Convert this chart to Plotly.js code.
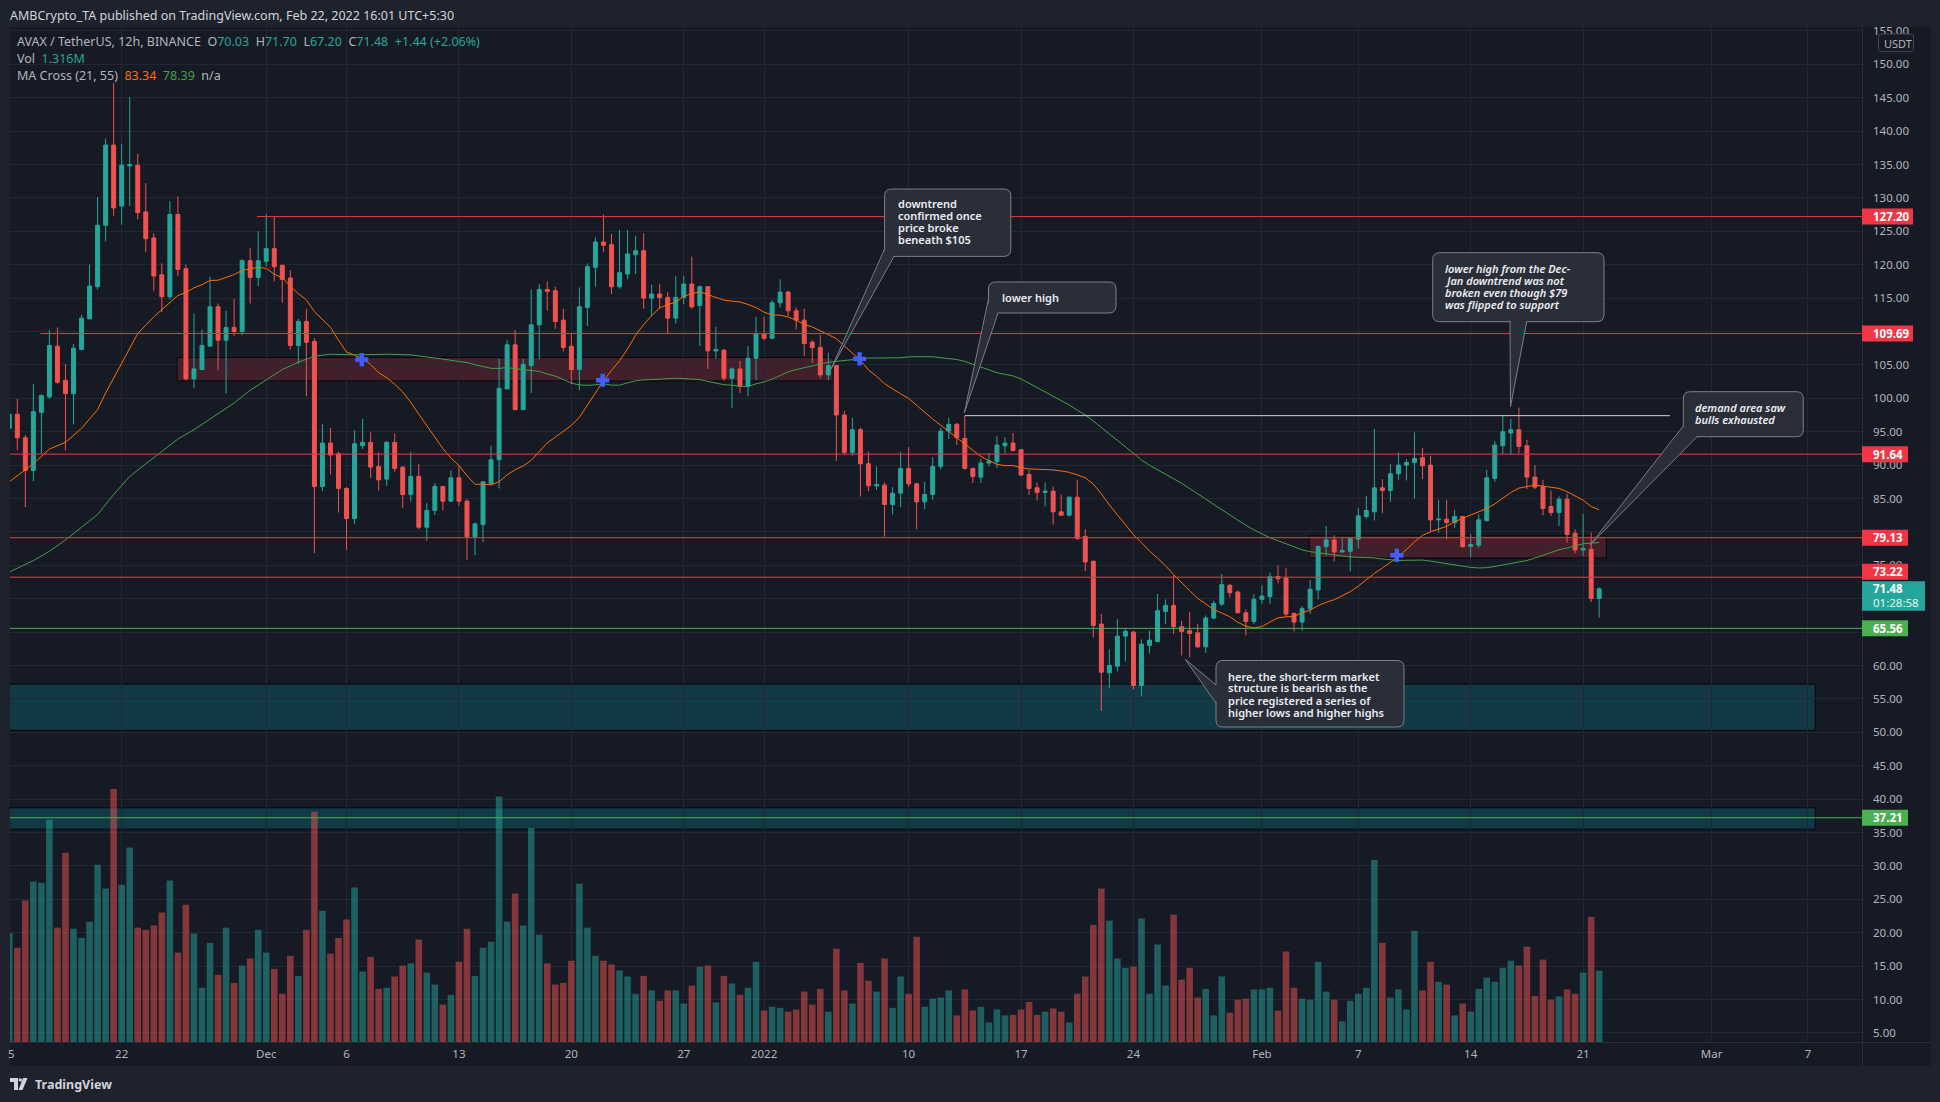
<!DOCTYPE html>
<html><head><meta charset="utf-8">
<script src="https://cdn.plot.ly/plotly-3.0.1.min.js"></script>
<style>html,body{margin:0;padding:0;background:#1e222d;overflow:hidden}#chart{width:1940px;height:1102px}</style>
</head><body><div id="chart"></div>
<script>
// ---------------- DATA (AVAX/USDT 12h, BINANCE) ----------------
const firstCandleUTC = Date.UTC(2021, 10, 15, 0, 0); // Nov 15 2021 00:00
const candleMs = 12 * 3600 * 1000;

const open = [
95.5,97.6,94.1,89.2,97.9,100.2,107.8,102.7,100.7,107.3,
111.9,116.7,125.9,137.9,128.8,134.8,134.9,127.9,124.0,118.5,
115.2,127.5,119.4,102.9,104.3,107.8,113.7,108.7,110.6,110.0,
120.6,118.1,120.5,122.4,119.9,118.0,107.9,111.5,108.5,86.8,
93.3,91.7,86.5,82.0,92.9,93.4,89.8,87.9,93.4,89.7,
85.6,88.3,80.7,83.2,86.8,84.6,88.1,84.6,79.3,81.1,
87.2,90.8,101.4,108.0,98.3,104.9,111.0,116.3,116.1,111.7,
107.8,104.3,113.6,119.6,123.4,123.0,116.7,118.6,121.5,122.1,
115.0,115.6,115.1,112.0,115.1,117.1,113.9,116.7,107.1,107.2,
103.0,104.4,101.8,106.0,109.7,109.0,114.3,115.9,113.1,111.7,
108.4,107.6,103.5,104.9,97.5,91.9,95.3,90.2,86.9,87.0,
84.1,85.8,89.5,87.2,84.5,85.6,89.8,95.1,96.1,94.0,
89.5,88.2,90.3,90.5,92.9,93.3,92.3,88.6,86.6,85.9,
86.1,83.0,82.5,85.2,79.3,75.6,66.2,58.9,59.9,64.4,
65.0,57.0,63.0,63.6,68.1,69.0,65.8,65.2,64.9,62.8,
67.1,69.2,72.0,71.0,67.9,66.6,69.9,70.3,73.3,73.1,
67.8,66.5,68.5,71.3,77.8,78.8,77.0,77.1,78.9,82.3,
83.0,86.6,86.2,88.7,90.0,90.4,91.1,90.0,81.8,81.9,
81.4,82.3,77.8,78.0,81.7,88.0,92.9,94.8,95.3,92.9,
88.2,86.8,83.8,82.9,84.9,79.8,77.3,77.4,70.03];

const high = [
98.0,99.9,94.5,102.1,100.6,110.2,110.6,105.1,108.1,112.5,
120.0,130.1,138.9,147.2,138.1,145.1,136.6,132.2,124.7,120.2,
129.5,130.2,120.0,112.7,110.3,118.2,114.2,113.1,114.9,120.8,
122.5,125.0,127.6,127.2,120.0,119.2,111.9,113.4,109.0,96.1,
95.6,92.0,86.7,95.2,96.9,94.9,91.9,93.6,94.7,89.8,
92.0,90.2,84.3,87.3,86.9,89.2,90.0,84.9,81.4,87.6,
92.9,105.9,108.7,110.2,105.9,116.3,117.1,117.5,116.7,113.4,
109.8,116.6,120.2,124.1,127.5,124.6,125.2,125.2,124.3,124.7,
117.0,117.1,115.9,118.3,118.3,121.2,116.9,116.8,110.7,107.4,
104.6,105.6,107.8,112.2,112.2,114.7,117.8,116.1,113.6,113.4,
108.7,109.5,106.8,105.0,98.1,97.1,95.6,92.0,89.8,87.4,
86.7,92.0,92.7,87.4,87.5,91.2,95.6,97.1,96.3,97.4,
89.6,90.9,91.8,94.4,94.2,94.8,92.4,89.3,87.4,87.4,
86.8,85.6,85.3,87.8,80.4,75.7,67.7,62.4,66.9,65.5,
65.2,63.9,65.2,70.7,69.9,73.5,66.7,68.0,66.2,67.5,
69.7,73.7,72.2,71.2,68.4,70.7,72.0,73.9,75.0,74.6,
67.9,68.9,72.8,78.0,80.9,79.5,79.1,79.1,83.6,85.4,
95.4,87.9,90.2,91.9,90.9,94.9,92.6,91.4,84.8,84.8,
83.3,82.4,79.7,82.6,89.3,93.6,97.4,96.9,98.6,93.8,
90.0,87.8,86.2,85.3,85.7,80.4,82.7,79.9,71.70];

const low = [
95.0,92.2,83.7,87.6,91.7,99.9,102.2,92.2,96.1,107.2,
111.8,116.3,123.5,127.3,126.0,128.8,126.8,121.9,116.1,112.9,
114.8,118.3,102.7,101.5,104.3,107.8,104.2,100.7,109.3,109.5,
114.2,116.8,119.7,117.5,114.3,107.3,105.1,100.3,76.8,86.1,
88.6,82.9,77.3,81.2,92.4,88.1,86.2,86.9,89.0,83.6,
84.5,80.4,78.7,82.5,83.2,84.5,83.9,75.8,76.5,78.5,
87.0,86.5,101.4,98.2,98.3,100.8,105.8,113.1,110.4,107.0,
102.1,101.2,110.8,116.7,121.9,115.6,116.4,117.8,118.6,113.4,
112.3,113.4,109.7,111.2,114.1,113.4,107.8,104.4,105.9,102.6,
98.5,100.8,100.3,102.7,108.7,108.8,113.6,112.3,110.3,106.3,
105.3,103.0,102.7,90.6,91.5,91.4,85.3,86.1,86.3,79.3,
82.6,83.7,86.7,80.4,83.4,84.8,89.3,93.9,93.0,89.3,
87.3,87.3,89.8,89.6,91.8,92.0,88.4,85.5,84.7,83.8,
81.1,82.4,82.3,78.8,74.1,64.2,53.2,56.6,59.1,60.6,
56.4,55.4,61.8,63.5,66.2,64.7,61.5,61.2,62.6,61.9,
66.9,68.9,70.2,67.8,64.5,66.2,69.2,69.2,72.3,67.4,
65.1,65.2,67.7,69.9,76.4,75.6,76.9,74.1,77.5,81.9,
81.7,82.8,84.5,87.8,87.7,85.0,87.9,80.1,79.9,78.9,
80.6,77.6,76.2,77.6,81.5,87.5,91.7,91.6,91.8,86.4,
86.4,82.5,82.4,80.9,78.4,76.8,76.4,69.5,67.20];

const close = [
97.6,94.1,89.2,98.0,100.4,107.9,102.4,100.7,107.5,112.0,
116.8,125.9,137.9,128.5,134.9,135.0,127.8,123.9,118.3,115.2,
127.5,119.3,102.9,104.4,107.9,113.7,108.7,110.6,110.0,120.6,
118.1,120.6,122.4,119.7,117.8,107.9,111.5,108.4,86.8,93.3,
91.5,86.5,82.0,93.2,93.4,89.7,87.8,93.4,89.5,85.6,
88.3,80.7,83.2,86.8,84.6,88.1,84.6,79.3,81.2,87.5,
90.8,101.5,108.0,98.3,105.1,111.0,116.3,116.0,111.5,107.6,
104.3,113.7,119.7,123.4,122.9,116.7,118.8,121.6,122.1,115.0,
115.6,115.1,112.0,115.1,117.1,113.7,116.7,107.1,107.3,103.0,
104.4,101.8,106.0,109.7,109.0,114.3,115.9,113.1,111.7,108.2,
107.6,103.5,104.9,97.5,91.9,95.3,90.2,86.9,87.1,84.1,
85.8,89.5,87.2,84.5,85.6,89.8,95.1,96.1,94.1,89.5,
88.3,90.3,90.6,93.0,93.3,92.2,88.5,86.5,85.9,86.1,
83.0,82.5,85.2,79.0,75.5,66.0,59.0,60.0,64.4,65.1,
57.0,63.2,63.8,68.2,69.0,65.8,65.1,64.8,62.8,67.1,
69.3,72.1,70.9,67.9,66.6,69.9,70.4,73.3,73.0,67.7,
66.5,68.5,71.4,77.8,78.8,77.0,77.2,79.0,82.4,83.2,
86.6,86.2,88.7,90.0,90.4,91.0,89.9,81.8,81.9,81.4,
82.3,77.8,78.1,81.8,88.1,93.0,95.0,95.3,92.8,88.2,
86.7,83.5,82.9,84.9,79.6,77.3,77.5,70.03,71.48];

const volumeM = [
2.01,1.74,2.61,2.96,2.94,4.10,2.11,3.49,2.09,1.92,
2.22,3.27,2.83,4.67,2.90,3.59,2.11,2.07,2.15,2.39,
2.98,1.65,2.53,2.00,1.00,1.83,1.24,2.11,1.09,1.41,
1.54,2.07,1.65,1.35,0.89,1.59,1.22,2.07,4.25,2.42,
1.63,1.92,2.26,2.85,1.30,1.57,0.98,1.00,1.21,1.41,
1.45,1.89,1.28,1.06,0.69,0.87,1.48,2.09,1.22,1.74,
1.85,4.53,2.22,2.74,2.15,3.95,1.98,1.45,1.06,1.09,
1.50,2.92,2.11,1.59,1.50,1.43,1.32,1.21,0.89,1.22,
0.95,0.76,0.95,0.95,0.71,1.04,1.39,1.41,0.73,1.22,
1.08,0.87,1.00,1.48,0.58,0.65,0.63,0.56,0.60,0.93,
0.69,0.98,0.56,1.72,0.95,0.71,1.46,1.13,0.93,1.54,
0.63,1.21,0.89,1.94,0.65,0.80,0.82,0.95,0.49,0.97,
0.58,0.65,0.36,0.60,0.49,0.50,0.60,0.74,0.50,0.56,
0.62,0.56,0.36,0.89,1.21,2.16,2.83,2.24,1.54,1.37,
1.39,2.28,0.89,1.80,1.04,2.35,1.15,1.37,0.82,0.98,
0.49,1.21,0.54,0.78,0.80,0.97,0.97,1.00,0.58,1.67,
1.00,0.80,0.78,1.48,0.93,0.78,0.38,0.76,0.89,1.00,
3.36,1.83,0.82,0.97,0.60,2.05,0.95,1.48,1.11,1.06,
0.49,0.71,0.56,0.98,1.19,1.11,1.37,1.50,1.41,1.76,
0.85,1.52,0.78,0.84,0.97,0.89,1.28,2.31,1.316];

// Moving averages before enough history exists on screen: candle index -> value
const maFastHeadIdx = [0,3,5,7,9,11,12,14,16,18];
const maFastHeadVal = [87.5,90.2,92.4,93.4,95.5,98.3,100.8,105.3,109.7,112.2];
const maSlowHeadIdx = [0,3,5,7,9,11,13,15,17,19,21,23,25,28,30,32,34,36,38,40,43,47,50];
const maSlowHeadVal = [74.0,75.7,77.1,78.8,80.7,82.6,85.6,88.3,90.2,92.0,93.9,95.3,96.9,99.3,101.2,102.7,104.3,105.4,106.3,106.6,106.5,106.6,106.5];
const maFastLen = 21, maSlowLen = 55;

// MA cross markers (candle index, price)
const crossIdx = [43.9, 73.9, 105.9, 172.8];
const crossPrice = [105.8, 102.7, 105.9, 76.5];

// Horizontal levels
const redLevels = [127.20, 109.69, 91.64, 79.13, 73.22];
const redLevelStartIdx = [30.85, 3.9, -2, -2, -2];
const greenLevels = [65.56, 37.21];
const lowerHigh = 97.4, lowerHighFrom = 119, lowerHighTo = 206.8;
const supplyZones = [[20.9, 102.6, 102.6, 106.1], [161.9, 198.9, 76.1, 79.4]]; // idx0, idx1, p0, p1
const demandBands = [[50.3, 57.2], [35.5, 38.7]];
const bandEndIdx = 224.9;
const lastPrice = 71.48, countdown = '01:28:58';

const xTickDates = ['2021-11-22','2021-12-01','2021-12-06','2021-12-13','2021-12-20','2021-12-27','2022-01-01','2022-01-10','2022-01-17','2022-01-24','2022-02-01','2022-02-07','2022-02-14','2022-02-21','2022-03-01','2022-03-07'];
const xTickText = ['22','Dec','6','13','20','27','2022','10','17','24','Feb','7','14','21','Mar','7'];
// price-axis ticks: every 5; labels fully hidden behind price tags in the reference are left blank
const yTickVals = [5,10,15,20,25,30,35,40,45,50,55,60,65,70,75,80,85,90,95,100,105,110,115,120,125,130,135,140,145,150,155];
const yTickHidden = [65, 70, 80];

// ---------------- helpers ----------------
const PL = 10, PR = 1862, PT = 27, PB = 1042;
const pxX = px => (px - PL) / (PR - PL);
const pxY = py => (PB - py) / (PB - PT);
const idxMs = k => firstCandleUTC + k * candleMs;
const msStr = ms => new Date(ms).toISOString().slice(0, 16).replace('T', ' ');
const idxStr = k => msStr(idxMs(k));

const xs = open.map((_, i) => idxStr(i));

function sma(n) {
  const out = [];
  for (let k = n - 1; k < close.length; k++) {
    let s = 0; for (let j = k - n + 1; j <= k; j++) s += close[j];
    out.push([k, s / n]);
  }
  return out;
}
const fastTail = sma(maFastLen), slowTail = sma(maSlowLen);
const fastX = maFastHeadIdx.map(idxStr).concat(fastTail.map(p => idxStr(p[0])));
const fastY = maFastHeadVal.concat(fastTail.map(p => p[1]));
const slowX = maSlowHeadIdx.map(idxStr).concat(slowTail.map(p => idxStr(p[0])));
const slowY = maSlowHeadVal.concat(slowTail.map(p => p[1]));

const UP = '#26a69a', DN = '#ef5350';
const volColors = close.map((c, i) => c >= open[i] ? 'rgba(38,166,154,0.5)' : 'rgba(239,83,80,0.5)');

const FONT = 'Noto Sans, Roboto, sans-serif';
const traces = [
  {type: 'bar', x: xs, y: volumeM, yaxis: 'y2', marker: {color: volColors, line: {width: 0}}, width: candleMs * 0.82, hoverinfo: 'skip'},
  {type: 'candlestick', x: xs, open, high, low, close,
   increasing: {line: {color: UP, width: 1}, fillcolor: UP},
   decreasing: {line: {color: DN, width: 1}, fillcolor: DN}, whiskerwidth: 0, hoverinfo: 'skip'},
  {type: 'scatter', mode: 'lines', x: fastX, y: fastY, line: {color: '#ff6d00', width: 1}, hoverinfo: 'skip'},
  {type: 'scatter', mode: 'lines', x: slowX, y: slowY, line: {color: '#43a047', width: 1}, hoverinfo: 'skip'},
  {type: 'scatter', mode: 'markers', x: crossIdx.map(idxStr), y: crossPrice,
   marker: {symbol: 'cross', size: 11, color: '#3f5efb', line: {width: 0}}, hoverinfo: 'skip'}
];

const shapes = [];
// chart pane background (frame is paper colour)
shapes.push({type: 'rect', xref: 'paper', yref: 'paper', x0: pxX(10), x1: pxX(1931), y0: pxY(1066), y1: pxY(27), fillcolor: '#161a25', line: {width: 0}, layer: 'below'});
// zones
supplyZones.forEach(z => shapes.push({type: 'rect', xref: 'x', yref: 'y', x0: idxStr(z[0]), x1: idxStr(z[1]), y0: z[2], y1: z[3], fillcolor: 'rgba(242,54,69,0.2)', line: {color: '#07080c', width: 1}, layer: 'below'}));
demandBands.forEach(b => shapes.push({type: 'rect', xref: 'x', yref: 'y', x0: idxStr(-3), x1: idxStr(bandEndIdx), y0: b[0], y1: b[1], fillcolor: 'rgba(0,172,193,0.22)', line: {color: '#07080c', width: 1}, layer: 'below'}));
// levels
redLevels.forEach((p, i) => shapes.push({type: 'line', xref: 'x', yref: 'y', x0: idxStr(redLevelStartIdx[i]), x1: idxStr(240), y0: p, y1: p, line: {color: '#f23645', width: 1}}));
greenLevels.forEach(p => shapes.push({type: 'line', xref: 'x', yref: 'y', x0: idxStr(-3), x1: idxStr(240), y0: p, y1: p, line: {color: '#4caf50', width: 1}}));
shapes.push({type: 'line', xref: 'x', yref: 'y', x0: idxStr(lowerHighFrom), x1: idxStr(lowerHighTo), y0: lowerHigh, y1: lowerHigh, line: {color: '#d1d4dc', width: 1}});
// axis separators
shapes.push({type: 'line', xref: 'paper', yref: 'paper', x0: pxX(10), x1: pxX(1931), y0: pxY(1042.5), y1: pxY(1042.5), line: {color: '#2a2e39', width: 1}});
shapes.push({type: 'line', xref: 'paper', yref: 'paper', x0: pxX(1862.5), x1: pxX(1862.5), y0: pxY(27), y1: pxY(1066), line: {color: '#2a2e39', width: 1}});

const annotations = [];
function txt(px, py, text, font, extra) {
  annotations.push(Object.assign({xref: 'paper', yref: 'paper', x: pxX(px), y: pxY(py), xanchor: 'left', yanchor: 'middle', text, showarrow: false, font: Object.assign({family: FONT, size: 12, color: '#b2b5be'}, font)}, extra || {}));
}
function P(x, y) { return pxX(x).toFixed(5) + ',' + pxY(y).toFixed(5); }
function rr(x0, y0, x1, y1, r) {
  return `M${P(x0 + r, y0)} L${P(x1 - r, y0)} Q${P(x1, y0)} ${P(x1, y0 + r)} L${P(x1, y1 - r)} Q${P(x1, y1)} ${P(x1 - r, y1)} L${P(x0 + r, y1)} Q${P(x0, y1)} ${P(x0, y1 - r)} L${P(x0, y0 + r)} Q${P(x0, y0)} ${P(x0 + r, y0)} Z`;
}

// callouts
const callouts = [
  {box: [884.6, 189, 1010.8, 256.4], tail: [[884.6, 249], [831, 369], [894, 256.4], [889, 251]], tx: 895.5, ty: 203.8, dy: 11.9, italic: false,
   lines: ['downtrend', 'confirmed once', 'price broke', 'beneath $105']},
  {box: [988.5, 282, 1116, 313], tail: [[988.5, 299], [964.3, 413], [998, 313], [993, 306]], tx: 999.5, ty: 297.5, dy: 12, italic: false,
   lines: ['lower high']},
  {box: [1432.7, 252.7, 1604, 321.7], tail: [[1510, 321.7], [1510.5, 406.7], [1526.7, 321.7], [1518, 315]], tx: 1443, ty: 268.3, dy: 12, italic: true,
   lines: ['lower high from the Dec-', 'Jan downtrend was not', 'broken even though $79', 'was flipped to support']},
  {box: [1683.3, 391.7, 1803.3, 436.7], tail: [[1683.3, 426], [1590, 545], [1697, 436.7], [1690, 430]], tx: 1693, ty: 407.7, dy: 12.3, italic: true,
   lines: ['demand area saw', 'bulls exhausted']},
  {box: [1216, 660.5, 1404, 727], tail: [[1216, 685], [1185, 659], [1216, 703], [1222, 694]], tx: 1226, ty: 676, dy: 12, italic: false,
   lines: ['here, the short-term market', 'structure is bearish as the', 'price registered a series of', 'higher lows and higher highs']}
];
const CFILL = '#2a2e39', CLINE = '#7b7f8a';
callouts.forEach(c => {
  const [x0, y0, x1, y1] = c.box;
  shapes.push({type: 'path', xref: 'paper', yref: 'paper', path: rr(x0, y0, x1, y1, 7), fillcolor: CFILL, line: {color: CLINE, width: 1}});
  const t = c.tail;
  shapes.push({type: 'path', xref: 'paper', yref: 'paper', path: `M${P(t[0][0] + 0.8, t[0][1])} L${P(t[1][0], t[1][1])} L${P(t[2][0], t[2][1] - 0.8)} L${P(t[3][0], t[3][1])} Z`, fillcolor: CFILL, line: {width: 0}});
  shapes.push({type: 'line', xref: 'paper', yref: 'paper', x0: pxX(t[0][0]), y0: pxY(t[0][1]), x1: pxX(t[1][0]), y1: pxY(t[1][1]), line: {color: CLINE, width: 1}});
  shapes.push({type: 'line', xref: 'paper', yref: 'paper', x0: pxX(t[1][0]), y0: pxY(t[1][1]), x1: pxX(t[2][0]), y1: pxY(t[2][1]), line: {color: CLINE, width: 1}});
  c.lines.forEach((l, i) => txt(c.tx, c.ty + i * c.dy, l, {size: 11, color: '#eceef3', weight: 600, style: c.italic ? 'italic' : 'normal'}));
});

// header & legend
txt(8, 15, 'AMBCrypto_TA published on TradingView.com, Feb 22, 2022 16:01 UTC+5:30', {size: 12.5, color: '#d1d4dc'});
const V = s => `<span style="color:${UP}">${s}</span>`;
txt(15, 42, `AVAX / TetherUS, 12h, BINANCE&nbsp;&nbsp;O${V('70.03')}&nbsp;&nbsp;H${V('71.70')}&nbsp;&nbsp;L${V('67.20')}&nbsp;&nbsp;C${V('71.48')}&nbsp;&nbsp;${V('+1.44 (+2.06%)')}`, {size: 12.5});
txt(15, 59, `Vol&nbsp;&nbsp;${V('1.316M')}`, {size: 12.5});
txt(15, 76, `MA Cross (21, 55)&nbsp;&nbsp;<span style="color:#ff6d00">83.34</span>&nbsp;&nbsp;<span style="color:#43a047">78.39</span>&nbsp;&nbsp;n/a`, {size: 12.5});

// price-axis labels
const priceY = p => 27 + (155.58 - p) * (1015 / 151.94);
function priceTag(p, label, bg, w, shift) {
  const cy = priceY(p) + (shift || 0);
  shapes.push({type: 'rect', xref: 'paper', yref: 'paper', x0: pxX(1862), x1: pxX(1862 + w), y0: pxY(cy + 8), y1: pxY(cy - 8), fillcolor: bg, line: {width: 0}, layer: 'above'});
  txt(1871, cy, label, {size: 11.5, color: '#ffffff', weight: 700});
}
// the 73.22 tag is pushed up a little so it does not collide with the last-price tag (as on TradingView)
const tagShift = {73.22: -5.5};
redLevels.forEach(p => priceTag(p, p.toFixed(2), '#f23645', p >= 100 ? 51 : 46, tagShift[p]));
priceTag(greenLevels[0], greenLevels[0].toFixed(2), '#4caf50', 46);
priceTag(greenLevels[1], greenLevels[1].toFixed(2), '#4caf50', 46);
{
  const cy = priceY(lastPrice);
  shapes.push({type: 'rect', xref: 'paper', yref: 'paper', x0: pxX(1862), x1: pxX(1925), y0: pxY(cy + 22), y1: pxY(cy - 7.5), fillcolor: '#26a69a', line: {width: 0}});
  txt(1871, cy, lastPrice.toFixed(2), {size: 11.5, color: '#ffffff', weight: 700});
  txt(1871, cy + 14, countdown, {size: 11.5, color: '#e6f4f2'});
}
// USDT box
shapes.push({type: 'path', xref: 'paper', yref: 'paper', path: rr(1878.5, 34, 1913.5, 51.5, 3), fillcolor: '#161a25', line: {color: '#434651', width: 1}});
txt(1882, 43, 'USDT', {size: 11, color: '#b2b5be'});
// clipped first x label
txt(6, 1053, '5', {size: 11.5, color: '#b2b5be'});
// footer logo
shapes.push({type: 'path', xref: 'paper', yref: 'paper', path: `M${P(10, 1078)} L${P(18, 1078)} L${P(18, 1090)} L${P(14, 1090)} L${P(14, 1082)} L${P(10, 1082)} Z`, fillcolor: '#d1d4dc', line: {width: 0}});
shapes.push({type: 'circle', xref: 'paper', yref: 'paper', x0: pxX(18.6), x1: pxX(22), y0: pxY(1081.6), y1: pxY(1078.2), fillcolor: '#d1d4dc', line: {width: 0}});
shapes.push({type: 'path', xref: 'paper', yref: 'paper', path: `M${P(23, 1078)} L${P(27.5, 1078)} L${P(22.5, 1090)} L${P(18.5, 1090)} Z`, fillcolor: '#d1d4dc', line: {width: 0}});
txt(33, 1084.5, '<b>TradingView</b>', {size: 12.5, color: '#d1d4dc'});

const layout = {
  width: 1940, height: 1102,
  margin: {l: PL, r: 1940 - PR, t: PT, b: 1102 - PB, pad: 0},
  paper_bgcolor: '#1e222d', plot_bgcolor: '#161a25',
  showlegend: false, hovermode: false, dragmode: false,
  font: {family: FONT, color: '#b2b5be'},
  xaxis: {type: 'date', range: [idxMs(0.091), idxMs(230.73)], rangeslider: {visible: false},
          tickmode: 'array', tickvals: xTickDates, ticktext: xTickText,
          showgrid: true, gridcolor: '#232733', gridwidth: 1, zeroline: false, showline: false, ticks: '',
          tickfont: {family: FONT, size: 11.5, color: '#b2b5be'}, ticklabelstandoff: 3, fixedrange: true},
  yaxis: {side: 'right', range: [3.64, 155.58], tickmode: 'array', tickvals: yTickVals,
          ticktext: yTickVals.map(v => yTickHidden.includes(v) ? '' : v.toFixed(2)),
          showgrid: true, gridcolor: '#232733', gridwidth: 1, zeroline: false, showline: false, ticks: '',
          ticklabelstandoff: 10, tickfont: {family: FONT, size: 11.5, color: '#b2b5be'}, fixedrange: true},
  yaxis2: {overlaying: 'y', range: [0, 1015 / 54.2], visible: false, fixedrange: true},
  shapes, annotations
};
Plotly.newPlot('chart', traces, layout, {staticPlot: true, displayModeBar: false});
</script>
</body></html>
